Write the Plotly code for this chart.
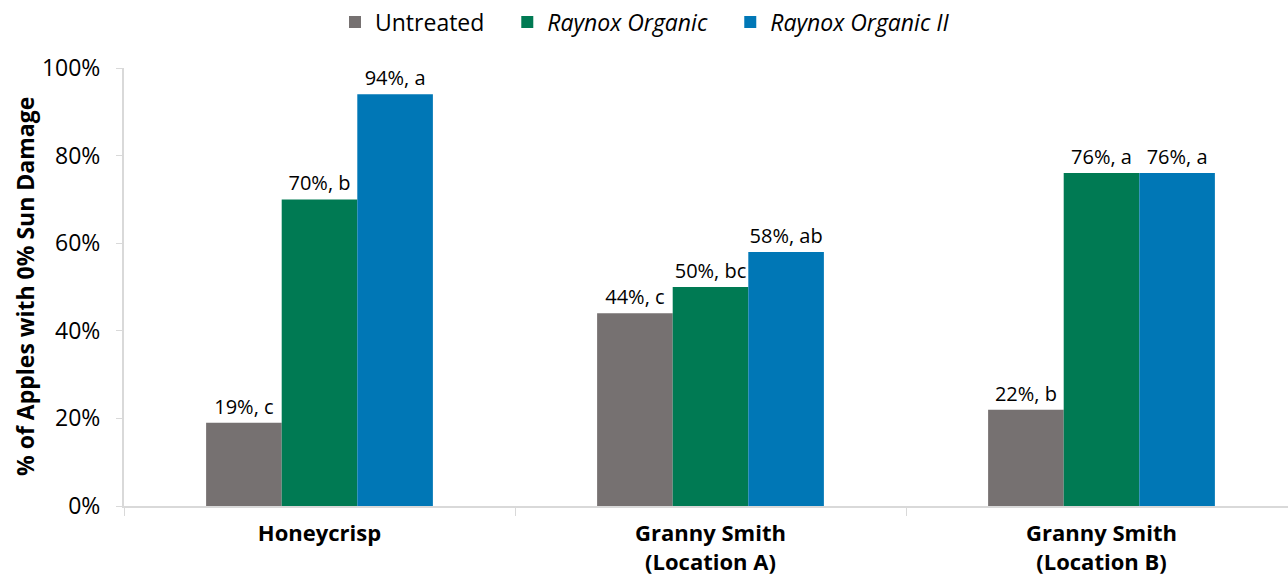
import plotly.graph_objects as go

categories = ["<b>Honeycrisp</b>", "<b>Granny Smith<br>(Location A)</b>", "<b>Granny Smith<br>(Location B)</b>"]
series_names = ["Untreated", "<i>Raynox Organic</i>", "<i>Raynox Organic II</i>"]
untreated = [0.19, 0.44, 0.22]
raynox = [0.70, 0.50, 0.76]
raynox2 = [0.94, 0.58, 0.76]
letters_untreated = ["c", "c", "b"]
letters_raynox = ["b", "bc", "a"]
letters_raynox2 = ["a", "ab", "a"]
colors = ["#767171", "#007A53", "#0077B6"]
y_title = "<b>% of Apples with 0% Sun Damage</b>"

font_family = "Open Sans, sans-serif"
legend_pad = ["\u00a0\u00a0\u00a0", "\u00a0\u00a0\u00a0", ""]

W, H = 1288, 579
L, T, B, R = 124, 68, 73, 0
plot_w = W - L - R

fig = go.Figure()
for name, pad, vals, letters, col in zip(series_names, legend_pad, [untreated, raynox, raynox2],
                                         [letters_untreated, letters_raynox, letters_raynox2], colors):
    fig.add_trace(go.Bar(
        x=categories, y=vals, name=name + pad,
        marker=dict(color=col, line=dict(width=0)),
        text=[f"{round(v*100)}%, {l}" for v, l in zip(vals, letters)],
        textposition="outside", cliponaxis=False,
        textfont=dict(size=20, color="#000000", family=font_family),
    ))

fig.update_layout(
    width=W, height=H,
    barmode="group", bargap=0.42, bargroupgap=0,
    plot_bgcolor="white", paper_bgcolor="white",
    margin=dict(l=L, r=R, t=T, b=B),
    font=dict(family=font_family, color="#000000"),
    legend=dict(orientation="h", x=(645 - L) / plot_w, xanchor="center",
                y=1 - 22 / H, yanchor="middle",
                yref="container", font=dict(size=23), traceorder="normal",
                itemwidth=30),
    showlegend=True,
)

fig.update_xaxes(
    range=[-0.5, -0.5 + plot_w / 391], showline=True, linecolor="#D9D9D9", linewidth=2,
    ticks="outside", tickson="boundaries", ticklen=8, tickcolor="#D9D9D9", tickwidth=1,
    tickfont=dict(size=22, color="#000000"), showgrid=False, automargin=False,
    ticklabelstandoff=7,
)
fig.update_yaxes(
    range=[0, 1], tickformat=".0%", dtick=0.2, showline=True, linecolor="#D9D9D9",
    linewidth=2, ticks="outside", ticklen=6, tickcolor="#D9D9D9", showgrid=False,
    tickfont=dict(size=23, color="#000000"), zeroline=False, automargin=False,
    ticklabelstandoff=11,
)
fig.add_annotation(
    text=y_title, xref="paper", yref="paper", x=(25 - L) / plot_w, y=0.5,
    textangle=-90, showarrow=False, font=dict(size=23, color="#000000"),
    xanchor="center", yanchor="middle",
)

fig.write_html("out.html", config={"displayModeBar": False},
               post_script="document.body.style.margin='0';")
